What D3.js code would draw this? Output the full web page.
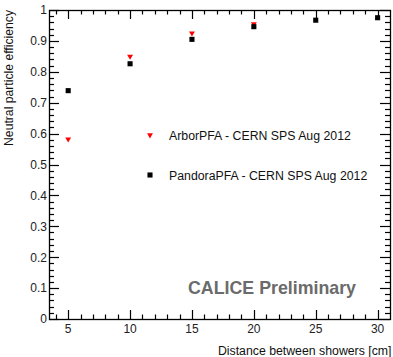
<!DOCTYPE html>
<html><head><meta charset="utf-8">
<script src="https://cdn.jsdelivr.net/npm/d3@7"></script>
<style>
html,body{margin:0;padding:0;background:#fff;}
svg{display:block;}
text{font-family:"Liberation Sans",Arial,Helvetica,sans-serif;}
</style></head>
<body>
<svg id="chart" width="393" height="357"></svg>
<script>
const distances = [5, 10, 15, 20, 25, 30];
const arborEff = [0.582, 0.850, 0.925, 0.955, null, null];
const pandoraEff = [0.739, 0.826, 0.905, 0.946, 0.967, 0.975];
const xTicks = [5, 10, 15, 20, 25, 30];
const yTicks = [0, 0.1, 0.2, 0.3, 0.4, 0.5, 0.6, 0.7, 0.8, 0.9, 1];
const legendLabels = ["ArborPFA - CERN SPS Aug 2012", "PandoraPFA - CERN SPS Aug 2012"];

const svg = d3.select("#chart");
const L = 49, R = 390, T = 10, B = 319;
const x = d3.scaleLinear().domain([3.45, 31]).range([L, R]);
const y = d3.scaleLinear().domain([0, 1]).range([B, T]);

const xMinor = d3.range(4, 32, 1).filter(v => x(v) <= R - 0.5 && xTicks.indexOf(v) < 0);
const yMinor = d3.range(1, 50).map(i => i * 0.02).filter(v => Math.abs(v * 10 - Math.round(v * 10)) > 1e-6);

const fmtY = d => d === 0 ? "0" : d === 1 ? "1" : d3.format(".1f")(d);
const px = v => Math.round(v) + 0.5;

svg.append("rect").attr("x", L + 0.5).attr("y", T + 0.5).attr("width", R - L).attr("height", B - T)
  .attr("fill", "none").attr("stroke", "#000").attr("stroke-width", 1.3);

svg.append("g").selectAll("text").data(xTicks).join("text")
  .attr("x", d => x(d)).attr("y", 332.5).attr("text-anchor", "middle")
  .attr("font-size", 12).attr("fill", "#222").text(d3.format("d"));
svg.append("g").selectAll("text").data(yTicks).join("text")
  .attr("x", 47).attr("y", d => y(d) + 4.3).attr("text-anchor", "end")
  .attr("font-size", 12).attr("fill", "#222").text(fmtY);

const tri = d3.symbol().type(d3.symbolTriangle).size(15);
const sq = d3.symbol().type(d3.symbolSquare).size(26);
const arborData = distances.map((d, i) => ({d, v: arborEff[i]})).filter(p => p.v != null);
const pandoraData = distances.map((d, i) => ({d, v: pandoraEff[i]}));
svg.append("g").selectAll("path").data(arborData).join("path")
  .attr("d", tri).attr("fill", "#ff0000")
  .attr("transform", p => `translate(${x(p.d)},${y(p.v)}) rotate(180)`);
svg.append("g").selectAll("path").data(pandoraData).join("path")
  .attr("d", sq).attr("fill", "#000")
  .attr("transform", p => `translate(${x(p.d)},${y(p.v)})`);

svg.append("path").attr("d", tri).attr("fill", "#ff0000").attr("transform", "translate(150,135) rotate(180)");
svg.append("path").attr("d", sq).attr("fill", "#000").attr("transform", "translate(150,175)");
svg.append("text").attr("x", 169).attr("y", 139.5).attr("font-size", 12.3).attr("fill", "#111").text(legendLabels[0]);
svg.append("text").attr("x", 169).attr("y", 179.5).attr("font-size", 12.3).attr("fill", "#111").text(legendLabels[1]);
svg.append("text").attr("x", 188).attr("y", 294).attr("font-size", 17.8).attr("font-weight", "bold")
  .attr("fill", "#6b6b6b").text("CALICE Preliminary");
svg.append("text").attr("x", 391.5).attr("y", 355).attr("text-anchor", "end").attr("font-size", 12.3)
  .attr("fill", "#111").text("Distance between showers [cm]");
svg.append("text").attr("transform", "translate(13,10) rotate(-90)").attr("text-anchor", "end")
  .attr("font-size", 12.2).attr("fill", "#111").text("Neutral particle efficiency");

function vTicks(vals, y0, len) {
  svg.append("g").selectAll("line").data(vals).join("line")
    .attr("x1", d => px(x(d))).attr("x2", d => px(x(d)))
    .attr("y1", y0).attr("y2", y0 + len)
    .attr("stroke", "#000").attr("stroke-width", 1.2);
}
function hTicks(vals, x0, len) {
  svg.append("g").selectAll("line").data(vals).join("line")
    .attr("y1", d => px(y(d))).attr("y2", d => px(y(d)))
    .attr("x1", x0).attr("x2", x0 + len)
    .attr("stroke", "#000").attr("stroke-width", 1.2);
}
vTicks(xTicks, B, -9);
vTicks(xMinor, B, -4.5);
vTicks(xTicks, T, 9);
vTicks(xMinor, T, 4.5);
hTicks(yTicks, L, 10);
hTicks(yMinor, L, 5);
hTicks(yTicks, R, -10);
hTicks(yMinor, R, -5);
</script>
</body></html>
